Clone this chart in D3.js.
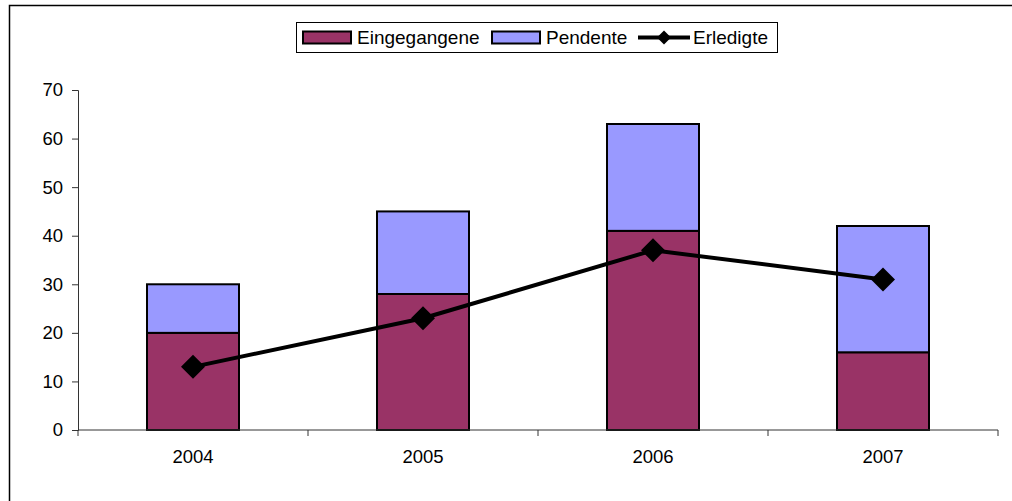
<!DOCTYPE html>
<html>
<head>
<meta charset="utf-8">
<script src="https://cdn.jsdelivr.net/npm/d3@7"></script>
<style>
  body { margin: 0; background: #fff; }
  text { font-family: Arial, "Liberation Sans", sans-serif; fill: #000; }
</style>
</head>
<body>
<div id="chart"></div>
<script>
// data
var years = ["2004", "2005", "2006", "2007"];
var eingegangene = [20, 28, 41, 16];
var pendente = [10, 17, 22, 26];
var erledigte = [13, 23, 37, 31];
var yTicks = [0, 10, 20, 30, 40, 50, 60, 70];

var width = 1012, height = 501;
var margin = {top: 90, left: 78, right: 14, bottom: 71};

var svg = d3.select("#chart")
  .append("svg")
    .attr("width", width)
    .attr("height", height);

// outer chart frame (runs off the right and bottom edge)
svg.append("rect")
  .attr("x", 9.5).attr("y", 5.5)
  .attr("width", 1010).attr("height", 505)
  .attr("fill", "none").attr("stroke", "#000").attr("stroke-width", 1.5);

var g = svg.append("g")
  .attr("transform", "translate(" + margin.left + "," + margin.top + ")");

var w = width - margin.left - margin.right,   // 920
    h = height - margin.top - margin.bottom;  // 340

var x = d3.scaleBand().domain(years).range([0, w]).paddingInner(0.6).paddingOuter(0.3);
var xc = d3.scaleBand().domain(years).range([0, w]);  // category cells for ticks
var y = d3.scaleLinear().domain([0, 70]).range([h, 0]);

// stack the two bar series
var rows = years.map(function(d, i) {
  return {year: d, Eingegangene: eingegangene[i], Pendente: pendente[i]};
});
var keys = ["Eingegangene", "Pendente"];
var color = d3.scaleOrdinal().domain(keys).range(["#993366", "#9999ff"]);
var stacked = d3.stack().keys(keys)(rows);

g.selectAll("g.layer")
  .data(stacked)
  .enter().append("g")
    .attr("class", "layer")
    .attr("fill", function(d) { return color(d.key); })
  .selectAll("rect")
  .data(function(d) { return d; })
  .enter().append("rect")
    .attr("x", function(d) { return x(d.data.year); })
    .attr("y", function(d) { return y(d[1]); })
    .attr("width", x.bandwidth())
    .attr("height", function(d) { return y(d[0]) - y(d[1]); })
    .attr("stroke", "#000")
    .attr("stroke-width", 2);

// y axis
var yAxis = g.append("g")
  .call(d3.axisLeft(y).tickValues(yTicks).tickSize(6).tickPadding(9));
yAxis.selectAll("path, line").attr("stroke", "#333");
yAxis.selectAll("text").attr("font-size", "18.5px").attr("font-family", "Arial, 'Liberation Sans', sans-serif");

// x axis with ticks between categories
var xAxis = g.append("g").attr("transform", "translate(0," + h + ")");
xAxis.append("line").attr("x1", 0).attr("x2", w).attr("stroke", "#333");
xAxis.selectAll("line.tk")
  .data(years.concat(["end"]))
  .enter().append("line")
    .attr("class", "tk")
    .attr("x1", function(d, i) { return i < years.length ? xc(d) : w; })
    .attr("x2", function(d, i) { return i < years.length ? xc(d) : w; })
    .attr("y1", 0).attr("y2", 6)
    .attr("stroke", "#333");
xAxis.selectAll("text")
  .data(years)
  .enter().append("text")
    .attr("x", function(d) { return xc(d) + xc.bandwidth() / 2; })
    .attr("y", 33)
    .attr("text-anchor", "middle")
    .attr("font-size", "18.5px")
    .text(function(d) { return d; });

// Erledigte line
var line = d3.line()
  .x(function(d, i) { return x(years[i]) + x.bandwidth() / 2; })
  .y(function(d) { return y(d); });
g.append("path")
  .datum(erledigte)
  .attr("d", line)
  .attr("fill", "none")
  .attr("stroke", "#000")
  .attr("stroke-width", 4);

var diamond = "M0,-12L12,0L0,12L-12,0Z";
g.selectAll("path.mk")
  .data(erledigte)
  .enter().append("path")
    .attr("class", "mk")
    .attr("d", diamond)
    .attr("transform", function(d, i) {
      return "translate(" + (x(years[i]) + x.bandwidth() / 2) + "," + y(d) + ")";
    })
    .attr("fill", "#000");

// legend
var lg = svg.append("g");
lg.append("rect")
  .attr("x", 296.5).attr("y", 22.5)
  .attr("width", 481).attr("height", 30)
  .attr("fill", "#fff").attr("stroke", "#000").attr("stroke-width", 1);

var swatches = [{key: "Eingegangene", x: 303, tx: 357}, {key: "Pendente", x: 492, tx: 546}];
swatches.forEach(function(s) {
  lg.append("rect")
    .attr("x", s.x).attr("y", 31.5)
    .attr("width", 48).attr("height", 12)
    .attr("fill", color(s.key)).attr("stroke", "#000").attr("stroke-width", 2);
  lg.append("text")
    .attr("x", s.tx).attr("y", 44)
    .attr("font-size", "19px")
    .text(s.key);
});
lg.append("line")
  .attr("x1", 638).attr("x2", 690).attr("y1", 37.5).attr("y2", 37.5)
  .attr("stroke", "#000").attr("stroke-width", 4);
lg.append("path")
  .attr("d", "M0,-7L7,0L0,7L-7,0Z")
  .attr("transform", "translate(664,37.5)")
  .attr("fill", "#000");
lg.append("text")
  .attr("x", 693).attr("y", 44)
  .attr("font-size", "19px")
  .text("Erledigte");
</script>
</body>
</html>
